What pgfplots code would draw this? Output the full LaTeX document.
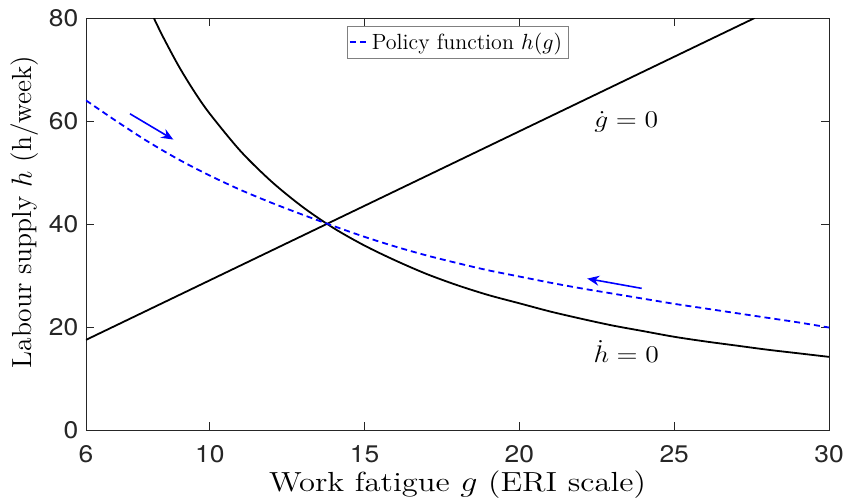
\documentclass[border=0pt]{standalone}
\usepackage{fontspec}
\usepackage{pgfplots}
\pgfplotsset{compat=1.18}
\usetikzlibrary{arrows.meta}
\newfontfamily\hel{TeX Gyre Heros}
\definecolor{axgray}{RGB}{38,38,38}
\begin{document}
\begin{tikzpicture}
\begin{axis}[
  name=main,
  scale only axis,
  width=371.5pt, height=206pt,
  xmin=6, xmax=30, ymin=0, ymax=80,
  xtick={6,10,15,20,25,30},
  ytick={0,20,40,60,80},
  tick align=inside,
  major tick length=4pt,
  axis line style={axgray, line width=0.4pt},
  tick style={axgray, line width=0.4pt},
  /pgf/number format/assume math mode=true,
  tick label style={font=\hel\fontsize{12}{13}\selectfont, text=axgray, xscale=1.1},
  xticklabel style={yshift=-4pt},
  xlabel={Work fatigue $g$ (ERI scale)},
  ylabel={Labour supply $h$ (h/week)},
  label style={font=\fontsize{13.8}{15}\selectfont},
  xlabel style={yshift=2.5pt, xscale=1.18},
  ylabel style={yshift=-2pt, xshift=6pt},
  legend style={at={(0.5,0.98)}, anchor=north, draw=gray, line width=0.4pt,
    font=\fontsize{11}{12}\selectfont, inner sep=1pt, row sep=0pt},
  legend cell align=left,
  legend image code/.code={\draw[#1] (0cm,0cm) -- (0.3cm,0cm);},
  clip=true,
]
% g-dot = 0 line
\addplot[black, line width=0.9pt, forget plot] coordinates {(6,17.5) (27.6,80)};
% h-dot = 0 curve
\addplot[black, line width=0.9pt, smooth, forget plot] coordinates {
(8.19,80) (8.5,76.2) (9,70.6) (9.5,65.7) (10,61.4) (11,54.1) (12,48.2) (13,43.3) (14,39.2)
(15,35.8) (16,32.9) (17,30.3) (18,28.1) (19,26.2) (20,24.6) (21,23.0) (22,21.6)
(23,20.3) (24,19.2) (25,18.1) (26,17.2) (27,16.4) (28,15.6) (29,14.9) (30,14.2)};
% policy function
\addplot[blue, line width=0.9pt, dash pattern=on 3pt off 2pt, smooth] coordinates {
(6,64.0) (7,59.9) (8,56.0) (9,52.5) (10,49.4) (11,46.6) (12,44.1) (13,41.8) (14,39.6)
(15,37.5) (16,35.6) (17,33.9) (18,32.4) (19,31.0) (20,29.8) (21,28.6) (22,27.5)
(23,26.5) (24,25.5) (25,24.5) (26,23.6) (27,22.7) (28,21.8) (29,20.9) (30,19.9)};
\addlegendentry{Policy function $h(g)$}
% arrows
\addplot[blue, line width=0.8pt, -{Stealth[length=6pt,width=5pt,inset=2pt]}, forget plot] coordinates {(7.42,61.4) (8.82,56.4)};
\addplot[blue, line width=0.8pt, -{Stealth[length=6pt,width=5pt,inset=2pt]}, forget plot] coordinates {(23.95,27.5) (22.19,29.4)};
\node[font=\fontsize{12.2}{13}\selectfont, xscale=1.15] at (axis cs:23.45,59.8) {$\dot g = 0$};
\node[font=\fontsize{12.2}{13}\selectfont, xscale=1.15] at (axis cs:23.45,15.3) {$\dot h = 0$};
\end{axis}
\pgfresetboundingbox
\path[use as bounding box] ([xshift=-43pt,yshift=-36pt]main.south west) rectangle ([xshift=7.5pt,yshift=9pt]main.north east);
\end{tikzpicture}
\end{document}
